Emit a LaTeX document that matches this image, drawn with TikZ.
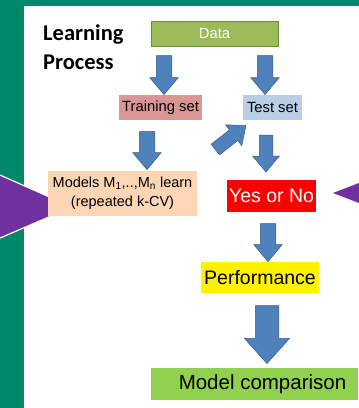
\documentclass[tikz,border=0pt]{standalone}
\usepackage{fontspec}
\setmainfont{Liberation Sans}
\newfontfamily\headfont{Carlito}
\usetikzlibrary{shapes.arrows}

\definecolor{bggreen}{RGB}{0,137,104}
\definecolor{purp}{RGB}{112,48,160}
\definecolor{arrowblue}{RGB}{79,129,189}
\definecolor{arrowline}{RGB}{56,93,138}
\definecolor{datagreen}{RGB}{155,187,89}
\definecolor{dataline}{RGB}{113,137,63}
\definecolor{trainred}{RGB}{217,150,148}
\definecolor{testblue}{RGB}{185,205,229}
\definecolor{peach}{RGB}{252,213,181}
\definecolor{compgreen}{RGB}{146,208,80}

\begin{document}
\begin{tikzpicture}[x=1pt,y=-1pt,
  box/.style={inner sep=0pt, minimum height=25pt, font=\fontsize{14.8}{17}\selectfont},
  blockarrow/.style={single arrow, draw=arrowline, fill=arrowblue, line width=0.5pt,
    inner xsep=0pt, inner ysep=7.5pt, single arrow head extend=6.5pt, single arrow tip angle=80},
  blockdown/.style={blockarrow, rotate=-90}]
  % hintergrund
  \fill[bggreen] (0,0) rectangle (359,408);
  \fill[white] (24,6) rectangle (359,408);
  \useasboundingbox (0,0) rectangle (359,408);
  % dreiecke
  \begin{scope}
    \clip (0,0) rectangle (359,408);
    \filldraw[fill=purp, draw=white, line width=1.2pt] (-5,172.8) -- (72,207) -- (-5,240.2) -- cycle;
    \fill[purp] (333,193) -- (365,180.7) -- (365,205.3) -- cycle;
  \end{scope}
  % titel
  \node[anchor=north west, inner sep=0pt, align=left,
    font=\headfont\bfseries\fontsize{22.5}{29}\selectfont] (title) at (43,25) {Learning\\Process};
  % boxen
  \node[box, fill=datagreen, draw=dataline, minimum width=127pt, text=white] (data) at (214.5,33.5) {Data};
  \node[box, fill=trainred, minimum width=83pt] (train) at (160.5,107.5) {Training set};
  \node[box, fill=testblue, minimum width=59pt] (test) at (272.5,107.5) {Test set};
  \node[box, fill=peach, minimum width=149pt, minimum height=45pt, align=center,
    font=\fontsize{14.5}{19}\selectfont] (models) at (122.5,193.5)
    {Models M\textsubscript{1},..,M\textsubscript{n} learn\\(repeated k-CV)};
  \node[box, fill=red, text=white, minimum width=89pt, minimum height=32pt,
    font=\fontsize{19.5}{22}\selectfont] (yesno) at (271.5,196) {Yes or No};
  \node[box, fill=yellow, minimum width=118pt, minimum height=31pt,
    font=\fontsize{19.5}{22}\selectfont] (perf) at (260,277.5) {Performance};
  \node[box, fill=compgreen, minimum width=207pt, minimum height=32pt,
    font=\fontsize{20.5}{23}\selectfont] (comp) at (254.5,384) {\hspace*{16pt}Model comparison};
  % pfeile
  \node[blockdown, minimum height=39pt] (a1) at (164,70.5) {};
  \node[blockdown, minimum height=39pt] (a2) at (265,70.5) {};
  \node[blockdown, minimum height=38pt] (a3) at (147,146) {};
  \node[blockdown, minimum height=37pt, inner ysep=6.5pt] (a4) at (266,149.5) {};
  \node[blockarrow, minimum height=39pt, inner ysep=6.5pt, rotate=38] (a5) at (227.5,140) {};
  \node[blockdown, minimum height=38pt] (a6) at (268,238) {};
  \node[blockdown, minimum height=58pt, inner ysep=11.5pt, single arrow head extend=11pt,
    single arrow tip angle=84] (a7) at (267,328) {};
\end{tikzpicture}
\end{document}
